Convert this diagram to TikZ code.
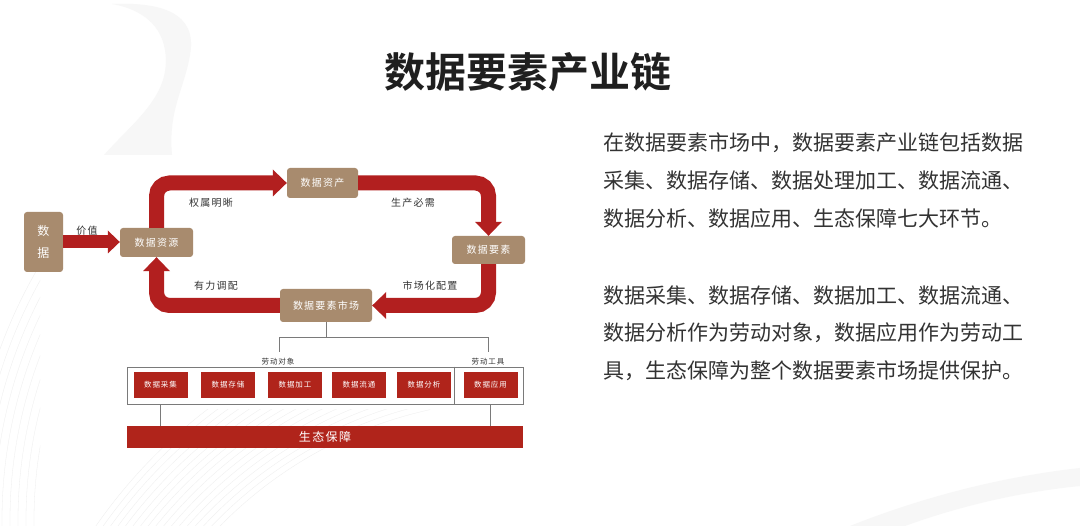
\documentclass[tikz,border=0pt]{standalone}
\usepackage{fontspec}
\setmainfont{Noto Sans CJK SC}[BoldFont={Noto Sans CJK SC Bold}]
\newfontfamily\cjks[LetterSpace=12]{Noto Sans CJK SC}
\usetikzlibrary{arrows.meta}
\definecolor{tanc}{HTML}{A88B6E}
\definecolor{dred}{HTML}{B0241B}
\definecolor{arr}{HTML}{B21F1F}
\definecolor{txt}{HTML}{333333}
\definecolor{gln}{HTML}{7A7A7A}
\begin{document}
\begin{tikzpicture}[x=1pt,y=-1pt,
 tanbox/.style={fill=tanc, rounded corners=3pt, text=white, inner sep=0pt, font=\cjks\fontsize{10}{12}\selectfont},
 redbox/.style={fill=dred, text=white, inner sep=0pt, minimum height=26pt, minimum width=54pt, font=\cjks\fontsize{7.5}{9}\selectfont},
 flow/.style={draw=arr, line width=15pt, rounded corners=13pt, -{Triangle[length=14pt,width=27pt,line width=0pt]}},
 flowa/.style={draw=arr, line width=13pt, -{Triangle[length=12pt,width=23pt,line width=0pt]}},
 lbl/.style={text=txt, inner sep=0pt, font=\cjks\fontsize{10}{12}\selectfont},
 slbl/.style={text=txt, inner sep=0pt, font=\cjks\fontsize{7.5}{9}\selectfont},
 gline/.style={draw=gln, line width=0.8pt},
 para/.style={anchor=west, text=txt, inner sep=0pt, font=\fontsize{21}{25}\selectfont},
 deco/.style={fill=black!3, draw=none},
 arcl/.style={draw=black!7, line width=0.3pt},
]
\useasboundingbox (0,0) rectangle (1080,526);
\fill[white] (0,0) rectangle (1080,526);
% background decorations
\fill[deco] (112,4) .. controls (160,2) and (198,12) .. (190,55) .. controls (184,90) and (168,110) .. (172,155) -- (104,155) .. controls (135,120) and (172,95) .. (165,50) .. controls (160,20) and (135,8) .. (112,4) -- cycle;
\begin{scope}
\clip (0,410) rectangle (430,526);
\foreach \r in {420,426,...,520} {\draw[arcl] (520,820) circle (\r);}
\end{scope}
\begin{scope}
\clip (0,240) rectangle (40,526);
\foreach \r in {420,428,...,500} {\draw[arcl] (470,520) circle (\r);}
\end{scope}
\fill[deco] (1080,468) .. controls (990,478) and (910,502) .. (850,526) -- (905,526) .. controls (960,506) and (1020,492) .. (1080,486) -- cycle;
% title
\node[font=\bfseries\fontsize{41}{48}\selectfont, text=black!88, inner sep=0pt] (title) at (528,72) {数据要素产业链};
% paragraph
\node[para] (p1) at (603,143) {在数据要素市场中，数据要素产业链包括数据};
\node[para] (p2) at (603,181) {采集、数据存储、数据处理加工、数据流通、};
\node[para] (p3) at (603,219) {数据分析、数据应用、生态保障七大环节。};
\node[para] (p4) at (603,296) {数据采集、数据存储、数据加工、数据流通、};
\node[para] (p5) at (603,333) {数据分析作为劳动对象，数据应用作为劳动工};
\node[para] (p6) at (603,371) {具，生态保障为整个数据要素市场提供保护。};
% cycle nodes
\node[tanbox, minimum width=39pt, minimum height=60pt, align=center, font=\fontsize{12}{22}\selectfont] (d) at (43.5,242) {数\\据};
\node[tanbox, minimum width=73pt, minimum height=29pt] (zy) at (156.5,242.5) {数据资源};
\node[tanbox, minimum width=71pt, minimum height=30pt] (zc) at (322.5,183) {数据资产};
\node[tanbox, minimum width=73pt, minimum height=28pt] (ys) at (488.5,250) {数据要素};
\node[tanbox, minimum width=92pt, minimum height=33pt] (sc) at (326,305.5) {数据要素市场};
% flows
\draw[flowa] (d.east) -- (d.east -| zy.west);
\draw[flow] (zy.north) |- (zc.west);
\draw[flow] (zc.east) -| (ys.north);
\draw[flow] (ys.south) |- (sc.east);
\draw[flow] (sc.west) -| (zy.south);
% flow labels
\node[lbl] (l0) at (87,231) {价值};
\node[lbl] (l1) at (211,203) {权属明晰};
\node[lbl] (l2) at (413,203) {生产必需};
\node[lbl] (l3) at (430,286) {市场化配置};
\node[lbl] (l4) at (216,286) {有力调配};
% connector tree
\coordinate (j) at (326,337);
\coordinate (lo) at (279,352);
\coordinate (lt) at (488,352);
\draw[gline] (sc.south) -- (j);
\draw[gline] (lo) -- (lo |- j) -- (lt |- j) -- (lt);
\node[slbl] (ldx) at (278,362) {劳动对象};
\node[slbl] (lgj) at (488,362) {劳动工具};
% outer box
\node[draw=gln, line width=0.8pt, minimum width=396pt, minimum height=37pt, inner sep=0pt] (ob) at (325,385.5) {};
\coordinate (dv) at (454,385.5);
\draw[gline] (dv |- ob.north) -- (dv |- ob.south);
\node[redbox] (b1) at (160.5,385) {数据采集};
\node[redbox] (b2) at (228,385) {数据存储};
\node[redbox] (b3) at (295,385) {数据加工};
\node[redbox] (b4) at (359,385) {数据流通};
\node[redbox] (b5) at (424,385) {数据分析};
\node[redbox] (b6) at (490.5,385) {数据应用};
% eco bar
\node[fill=dred, minimum width=396pt, minimum height=22pt, inner sep=0pt, text=white, font=\cjks\fontsize{12}{14}\selectfont] (eco) at (325,437) {生态保障};
\draw[gline] (b1 |- ob.south) -- (b1 |- eco.north);
\draw[gline] (b6 |- ob.south) -- (b6 |- eco.north);
\end{tikzpicture}
\end{document}
